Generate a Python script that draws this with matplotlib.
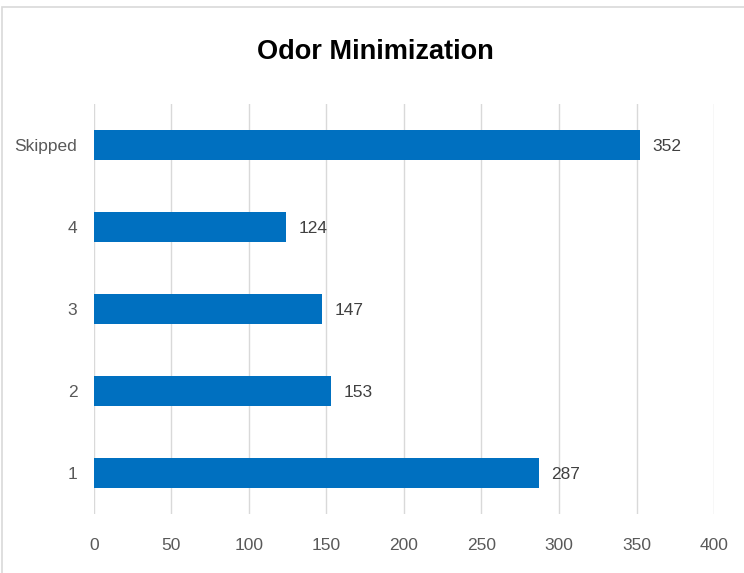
import matplotlib.pyplot as plt
from matplotlib.patches import Rectangle

# dados
categorias = ['1', '2', '3', '4', 'Skipped']
valores = [287, 153, 147, 124, 352]
ticks_x = [0, 50, 100, 150, 200, 250, 300, 350, 400]

fonte = ['Liberation Sans', 'DejaVu Sans']
cinza = '#595959'

fig = plt.figure(figsize=(7.44, 5.73), dpi=100)
ax = fig.add_axes([0.1263, 0.103, 0.8334, 0.7155])

# borda externa do gráfico
fig.patches.append(Rectangle((2 / 744, -0.01), 1.0, 1 - 7 / 573 + 0.01,
                             transform=fig.transFigure, fill=False,
                             edgecolor='#d9d9d9', linewidth=1.2))

pos = range(len(categorias))
ax.barh(pos, valores, height=0.37, color='#0070C0', zorder=2)

for i, v in enumerate(valores):
    ax.text(v + 8, i - 0.02, str(v), va='center', ha='left', fontsize=12.5,
            color='#404040', family=fonte)

ax.set_xlim(0, 400)
ax.set_ylim(-0.5, len(categorias) - 0.5)
ax.set_xticks(ticks_x)
ax.set_xticklabels([str(t) for t in ticks_x], family=fonte, fontsize=12.5, color=cinza)
ax.set_yticks(list(pos))
ax.set_yticklabels(categorias, family=fonte, fontsize=12.5, color=cinza)
ax.tick_params(length=0, pad=12)
ax.tick_params(axis='x', pad=17)

ax.grid(True, axis='x', color='#d9d9d9', linewidth=1, zorder=0)
for s in ax.spines.values():
    s.set_visible(False)

fig.text(0.505, 0.91, 'Odor Minimization', ha='center', va='center',
         fontsize=19.5, fontweight='bold', family=fonte)

fig.savefig('out.png', dpi=100)
